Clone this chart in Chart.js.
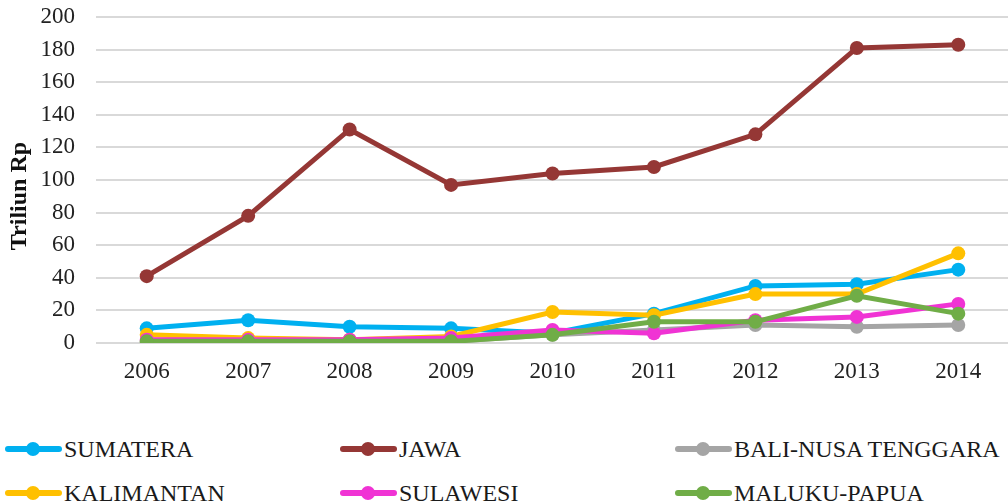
<!DOCTYPE html>
<html>
<head>
<meta charset="utf-8">
<script src="https://cdn.jsdelivr.net/npm/chart.js@4.4.1/dist/chart.umd.min.js"></script>
<style>
  html, body { margin: 0; padding: 0; background: #fff; overflow: hidden; width: 1008px; height: 502px; }
  .chart { position: relative; width: 1016px; height: 395px; }
  .legend { position: absolute; left: 0; top: 434px; width: 1008px; display: grid;
    grid-template-columns: 335px 335px 338px; row-gap: 14px; font-family: "Liberation Serif", serif;
    font-size: 24px; color: #1a1a1a; }
  .legend__item { display: flex; align-items: center; height: 30px; white-space: nowrap; }
  .legend__mark { position: relative; flex: none; width: 57px; height: 6px; border-radius: 3px; margin: 0 2px 0 5px; }
  .legend__mark::after { content: ''; position: absolute; left: 21px; top: -4px; width: 14px; height: 14px;
    border-radius: 50%; background: inherit; }
</style>
</head>
<body>
<div class="chart"><canvas id="chart"></canvas></div>
<div class="legend" id="legend"></div>
<script>
const years = ['2006', '2007', '2008', '2009', '2010', '2011', '2012', '2013', '2014'];
const regions = ['SUMATERA', 'JAWA', 'BALI-NUSA TENGGARA', 'KALIMANTAN', 'SULAWESI', 'MALUKU-PAPUA'];
const colors = ['#00B0F0', '#953735', '#A5A5A5', '#FFC000', '#F033D4', '#70AD47'];

const sumatera = [9, 14, 10, 9, 6, 18, 35, 36, 45];
const jawa = [41, 78, 131, 97, 104, 108, 128, 181, 183];
const bali = [1, 1, 1, 1, 5, 8, 11, 10, 11];
const kalimantan = [5, 3, 2, 4, 19, 17, 30, 30, 55];
const sulawesi = [2, 2, 2, 3, 8, 6, 14, 16, 24];
const maluku = [1, 1, 1, 1, 5, 13, 13, 29, 18];

const series = [sumatera, jawa, bali, kalimantan, sulawesi, maluku];

const serif = 'Liberation Serif';
const axisTitle = 'Triliun Rp';

// rotated axis title, sits a bit below the middle like in the original
const titlePlugin = {
  id: 'axisTitle',
  afterDraw(chart) {
    const ctx = chart.ctx;
    ctx.save();
    ctx.translate(20, 196);
    ctx.rotate(-Math.PI / 2);
    ctx.font = 'bold 24px "' + serif + '"';
    ctx.fillStyle = '#111';
    ctx.textAlign = 'center';
    ctx.textBaseline = 'middle';
    ctx.fillText(axisTitle, 0, 0);
    ctx.restore();
  }
};

const datasets = series.map((values, i) => ({
  label: regions[i],
  data: values,
  borderColor: colors[i],
  backgroundColor: colors[i],
  borderWidth: 5,
  pointRadius: 7,
  pointHoverRadius: 7,
  pointBorderWidth: 0,
  tension: 0,
  order: series.length - i, // later series on top
}));

const chart = new Chart(document.getElementById('chart'), {
  type: 'line',
  data: { labels: years, datasets: datasets },
  plugins: [titlePlugin],
  options: {
    responsive: true,
    maintainAspectRatio: false,
    animation: false,
    events: [],
    layout: { padding: { left: 40, top: 0, right: 3, bottom: 9 } },
    plugins: { legend: { display: false }, tooltip: { enabled: false } },
    scales: {
      x: {
        offset: true,
        grid: { display: false, drawTicks: false },
        border: { display: false },
        ticks: { font: { family: serif, size: 23 }, color: '#222', padding: 15, maxRotation: 0, autoSkip: false },
        afterFit: (scale) => { scale.height = 43; },
      },
      y: {
        min: 0,
        max: 200,
        ticks: { stepSize: 20, font: { family: serif, size: 23 }, color: '#222', padding: 21, autoSkip: false },
        grid: { color: '#D9D9D9', lineWidth: 2, drawTicks: false },
        border: { display: false },
        afterFit: (scale) => {
          scale.width = 56;
          scale.paddingTop = 17;
          scale.paddingBottom = 14;
        },
      },
    },
  },
});

// legend in three columns like the original
const legend = document.getElementById('legend');
chart.data.datasets.forEach((ds) => {
  const item = document.createElement('div');
  item.className = 'legend__item';
  const mark = document.createElement('span');
  mark.className = 'legend__mark';
  mark.style.background = ds.borderColor;
  const text = document.createElement('span');
  text.textContent = ds.label;
  item.appendChild(mark);
  item.appendChild(text);
  legend.appendChild(item);
});
</script>
</body>
</html>
